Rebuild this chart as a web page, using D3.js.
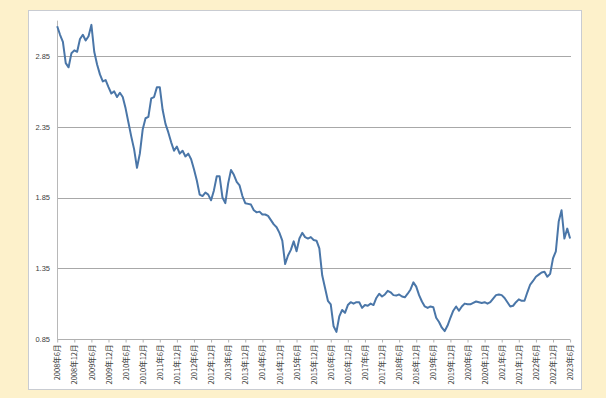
<!DOCTYPE html>
<html>
<head>
<meta charset="utf-8">
<script src="https://cdn.jsdelivr.net/npm/d3@7/dist/d3.min.js"></script>
<style>
  html, body { margin: 0; padding: 0; background: #fdf1cb; }
  svg { display: block; }
</style>
</head>
<body>
<svg id="chart" width="606" height="398"></svg>
<script>
// Monthly values, 2008-06 .. 2023-06
const startYear = 2008;
const startMonth = 6;
const values = [
  3.06, 3.00, 2.95, 2.80, 2.77, 2.87, 2.89, 2.88, 2.97, 3.00, 2.96, 2.99,
  3.07, 2.88, 2.79, 2.72, 2.67, 2.68, 2.63, 2.585, 2.60, 2.56, 2.59, 2.56,
  2.48, 2.38, 2.28, 2.19, 2.06, 2.16, 2.33, 2.41, 2.42, 2.55, 2.56, 2.63,
  2.63, 2.47, 2.37, 2.31, 2.24, 2.18, 2.21, 2.16, 2.18, 2.14, 2.16, 2.12,
  2.05, 1.97, 1.87, 1.86, 1.885, 1.87, 1.83, 1.90, 2.00, 2.00, 1.85, 1.81,
  1.95, 2.045, 2.01, 1.96, 1.935, 1.86, 1.81, 1.805, 1.80, 1.76, 1.745, 1.75,
  1.73, 1.73, 1.72, 1.69, 1.66, 1.64, 1.60, 1.545, 1.38, 1.44, 1.48, 1.54,
  1.47, 1.56, 1.60, 1.57, 1.56, 1.57, 1.55, 1.545, 1.49, 1.30, 1.21, 1.12,
  1.095, 0.94, 0.90, 1.01, 1.055, 1.035, 1.09, 1.11, 1.10, 1.11, 1.11, 1.07,
  1.09, 1.085, 1.10, 1.09, 1.14, 1.17, 1.15, 1.165, 1.19, 1.18, 1.16, 1.157,
  1.165, 1.15, 1.145, 1.17, 1.20, 1.25, 1.22, 1.16, 1.115, 1.08, 1.07, 1.08,
  1.075, 1.00, 0.97, 0.93, 0.906, 0.945, 1.00, 1.05, 1.08, 1.05, 1.08, 1.10,
  1.095, 1.095, 1.105, 1.115, 1.11, 1.105, 1.11, 1.10, 1.11, 1.135, 1.16, 1.165,
  1.16, 1.14, 1.11, 1.08, 1.085, 1.11, 1.13, 1.12, 1.12, 1.18, 1.235, 1.26,
  1.29, 1.305, 1.32, 1.325, 1.29, 1.31, 1.42, 1.47, 1.68, 1.76, 1.56, 1.63,
  1.56
];
const yTicks = [0.85, 1.35, 1.85, 2.35, 2.85];
const yMax = 3.1;
const tickStep = 6; // months between x tick labels

const svg = d3.select("#chart");

// white panel
svg.append("rect")
  .attr("x", 28.5).attr("y", 10.5)
  .attr("width", 553).attr("height", 379)
  .attr("fill", "#ffffff")
  .attr("stroke", "#c9ccd2").attr("stroke-width", 1);

const x = d3.scaleLinear().domain([0, values.length - 1]).range([57.2, 570.1]);
const y = d3.scaleLinear().domain([0.85, 2.85]).range([339, 56]);

// gridlines
svg.append("g")
  .selectAll("line")
  .data(yTicks.slice(1))
  .join("line")
  .attr("x1", 57).attr("x2", 571)
  .attr("y1", d => Math.round(y(d)) + 0.5).attr("y2", d => Math.round(y(d)) + 0.5)
  .attr("stroke", "#a8a8a8").attr("stroke-width", 1);

// y axis
const yAxis = d3.axisLeft(y).tickValues(yTicks).tickFormat(d3.format(".2f")).tickSize(0).tickPadding(7);
const gy = svg.append("g").attr("transform", "translate(57,0)").call(yAxis);
gy.select(".domain").remove();
gy.append("line").attr("x1", 0.5).attr("x2", 0.5).attr("y1", y(yMax)).attr("y2", y(0.85))
  .attr("stroke", "#b8b8b8");
gy.selectAll("text")
  .attr("fill", "#404040")
  .style("font-family", "'Liberation Sans', Arial, sans-serif")
  .style("font-size", "7.5px");

// x axis
const tickIdx = d3.range(0, values.length, tickStep);
const label = i => {
  const total = startMonth - 1 + i;
  return `${startYear + Math.floor(total / 12)}年${(total % 12) + 1}月`;
};
const xAxis = d3.axisBottom(x).tickValues(tickIdx).tickFormat(label).tickSize(3).tickPadding(3);
const gx = svg.append("g").attr("transform", `translate(0,${Math.round(y(0.85)) + 0.5})`).call(xAxis);
gx.select(".domain").attr("stroke", "#b0b0b0").attr("d", `M${x(0)},0H${x(values.length - 1)}`);
gx.selectAll(".tick line").attr("stroke", "#b0b0b0");
gx.selectAll("text")
  .attr("fill", "#404040")
  .style("font-family", "'Noto Sans CJK JP', sans-serif")
  .style("font-size", "7.5px")
  .attr("transform", "rotate(-90)")
  .attr("text-anchor", "end")
  .attr("x", -5)
  .attr("y", 0)
  .attr("dy", "0.35em");

// line
const line = d3.line().x((d, i) => x(i)).y(d => y(d));
svg.append("path")
  .datum(values)
  .attr("d", line)
  .attr("fill", "none")
  .attr("stroke", "#4a76a8")
  .attr("stroke-width", 2)
  .attr("stroke-linejoin", "round");
</script>
</body>
</html>
